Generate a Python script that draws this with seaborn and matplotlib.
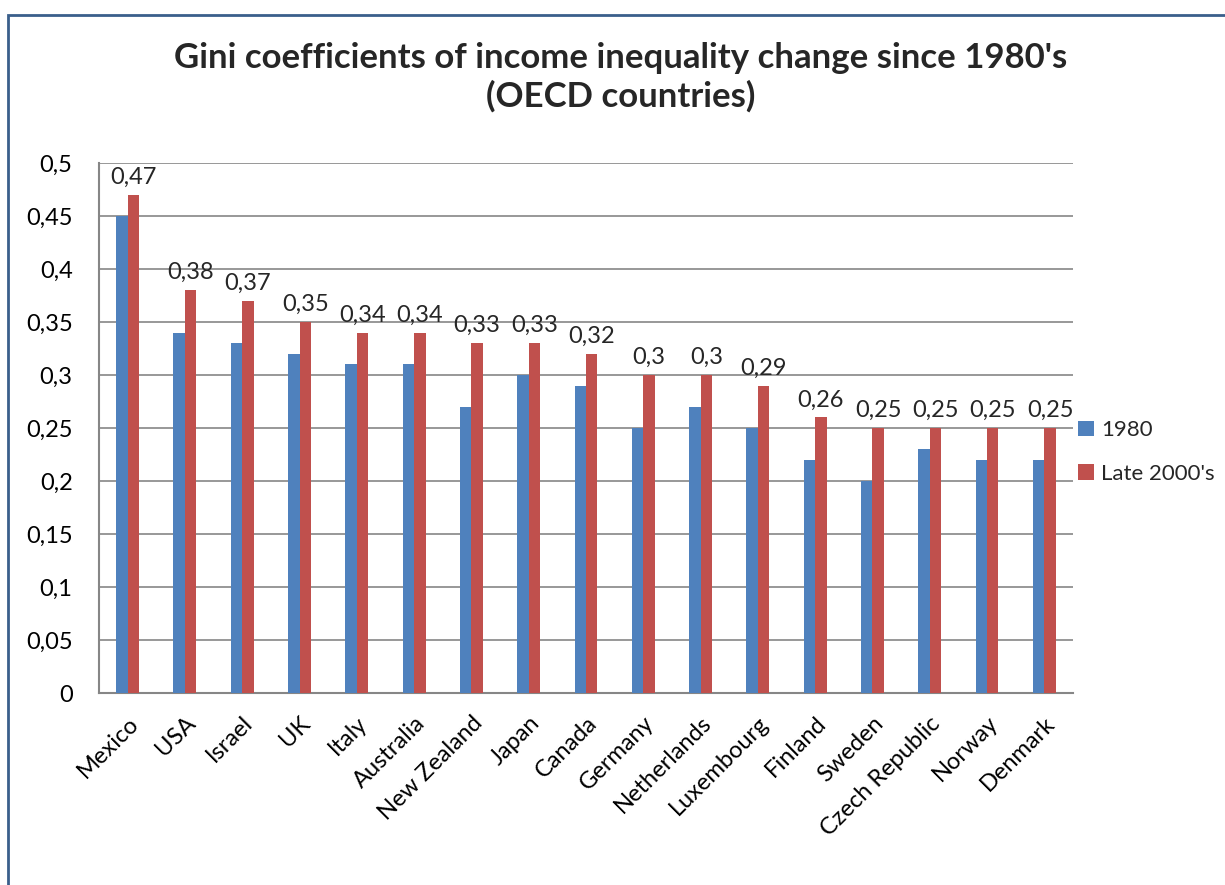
import matplotlib
matplotlib.use("Agg")
import matplotlib.pyplot as plt
from matplotlib.patches import Rectangle
import seaborn as sns
import pandas as pd

countries = ["Mexico", "USA", "Israel", "UK", "Italy", "Australia", "New Zealand",
             "Japan", "Canada", "Germany", "Netherlands", "Luxembourg", "Finland",
             "Sweden", "Czech Republic", "Norway", "Denmark"]
gini_1980 = [0.45, 0.34, 0.33, 0.32, 0.31, 0.31, 0.27, 0.30, 0.29, 0.25, 0.27,
             0.25, 0.22, 0.20, 0.23, 0.22, 0.22]
gini_late2000s = [0.47, 0.38, 0.37, 0.35, 0.34, 0.34, 0.33, 0.33, 0.32, 0.30, 0.30,
                  0.29, 0.26, 0.25, 0.25, 0.25, 0.25]
series_names = ["1980", "Late 2000's"]
y_ticks = [0, 0.05, 0.1, 0.15, 0.2, 0.25, 0.3, 0.35, 0.4, 0.45, 0.5]
title = "Gini coefficients of income inequality change since 1980's\n(OECD countries)"

df = pd.DataFrame({
    "country": countries * 2,
    "gini": gini_1980 + gini_late2000s,
    "period": [series_names[0]] * len(countries) + [series_names[1]] * len(countries),
})

sns.set_theme(style="white")
plt.rcParams["font.family"] = ["Lato", "DejaVu Sans"]

fig = plt.figure(figsize=(12.25, 8.85), dpi=100)
ax = fig.add_axes([0.0808, 0.2169, 0.7951, 0.5989])

palette = {"1980": "#4F81BD", "Late 2000's": "#C0504D"}
sns.barplot(data=df, x="country", y="gini", hue="period", palette=palette,
            width=0.4, gap=0, dodge=True, saturation=1, ax=ax, legend=True,
            edgecolor="none", zorder=3)

ax.set_ylim(0, 0.5)
ax.set_xlim(-0.5, len(countries) - 0.5)
ax.set_yticks(y_ticks)
ax.set_yticklabels([f"{v:g}".replace(".", ",") for v in y_ticks], fontsize=17)
ax.set_xticks(range(len(countries)))
ax.set_xticklabels(countries, rotation=45, ha="right", rotation_mode="anchor",
                   fontsize=17)
ax.tick_params(axis="both", length=0, colors="black")
ax.tick_params(axis="y", pad=19)
ax.tick_params(axis="x", pad=14)
ax.set_xlabel("")
ax.set_ylabel("")

ax.yaxis.grid(True, color="#868686", linewidth=1.2, zorder=0)
ax.set_axisbelow(True)
for side in ["top", "right"]:
    ax.spines[side].set_visible(False)
for side in ["left", "bottom"]:
    ax.spines[side].set_color("#868686")
    ax.spines[side].set_linewidth(1.5)

# value labels above the late-2000s bars
late_bars = ax.containers[1]
labels = [f"{v:g}".replace(".", ",") for v in gini_late2000s]
ax.bar_label(late_bars, labels=labels, padding=5, fontsize=17)

leg = ax.legend(loc="center left", bbox_to_anchor=(0.991, 0.455), frameon=False,
                fontsize=16, handlelength=0.72, handleheight=0.72, handletextpad=0.35,
                labelspacing=1.05, borderaxespad=0.2)

fig.text(0.507, 0.952, title, ha="center", va="top", fontsize=25,
         fontweight="bold", linespacing=1.2)

fig.patches.append(Rectangle((8 / 1225, -0.1), 1.2, 1.1 - 15 / 885,
                             transform=fig.transFigure, fill=False,
                             edgecolor="#3A5F8B", linewidth=2))

fig.savefig("out.png", dpi=100, facecolor="white")
